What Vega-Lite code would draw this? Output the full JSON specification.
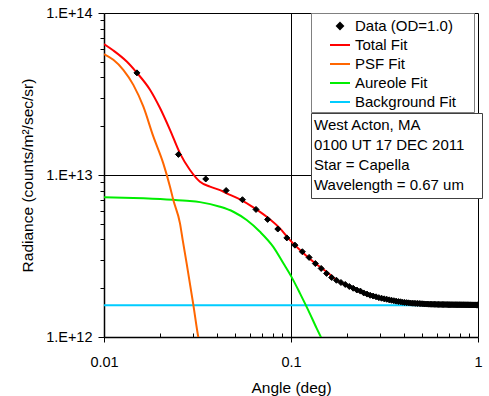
{
  "$schema": "https://vega.github.io/schema/vega-lite/v6.json",
  "width": 374,
  "height": 324,
  "autosize": "none",
  "padding": {"left": 104, "top": 13, "right": 11, "bottom": 59},
  "config": {
    "font": "Liberation Sans",
    "view": {"stroke": null},
    "axis": {
      "labelFont": "Liberation Sans",
      "titleFont": "Liberation Sans",
      "labelColor": "black",
      "titleColor": "black",
      "domainColor": "black",
      "tickColor": "black",
      "gridColor": "black",
      "gridWidth": 1,
      "domainWidth": 1.5,
      "tickWidth": 1,
      "labelFontSize": 14.5,
      "titleFontSize": 15.5,
      "titleFontWeight": "normal"
    }
  },
  "datasets": {
    "info": [
      {"line": "West Acton, MA"},
      {"line": "0100 UT 17 DEC 2011"},
      {"line": "Star = Capella"},
      {"line": "Wavelength = 0.67 um"}
    ],
    "obs": [
      {"s": "Data (OD=1.0)", "a": 0.015, "r": 4.27e13}, {"s": "Data (OD=1.0)", "a": 0.025, "r": 1.34e13}, {"s": "Data (OD=1.0)", "a": 0.035, "r": 9.45e12}, {"s": "Data (OD=1.0)", "a": 0.045, "r": 8.02e12},
      {"s": "Data (OD=1.0)", "a": 0.055, "r": 7.04e12}, {"s": "Data (OD=1.0)", "a": 0.065, "r": 6.13e12}, {"s": "Data (OD=1.0)", "a": 0.075, "r": 5.32e12}, {"s": "Data (OD=1.0)", "a": 0.085, "r": 4.64e12},
      {"s": "Data (OD=1.0)", "a": 0.095, "r": 4.09e12}, {"s": "Data (OD=1.0)", "a": 0.105, "r": 3.69e12}, {"s": "Data (OD=1.0)", "a": 0.115, "r": 3.36e12}, {"s": "Data (OD=1.0)", "a": 0.125, "r": 3.10e12},
      {"s": "Data (OD=1.0)", "a": 0.135, "r": 2.84e12}, {"s": "Data (OD=1.0)", "a": 0.145, "r": 2.65e12}, {"s": "Data (OD=1.0)", "a": 0.155, "r": 2.47e12}, {"s": "Data (OD=1.0)", "a": 0.165, "r": 2.33e12},
      {"s": "Data (OD=1.0)", "a": 0.175, "r": 2.24e12}, {"s": "Data (OD=1.0)", "a": 0.185, "r": 2.17e12}, {"s": "Data (OD=1.0)", "a": 0.195, "r": 2.11e12}, {"s": "Data (OD=1.0)", "a": 0.205, "r": 2.05e12},
      {"s": "Data (OD=1.0)", "a": 0.215, "r": 2.00e12}, {"s": "Data (OD=1.0)", "a": 0.225, "r": 1.95e12}, {"s": "Data (OD=1.0)", "a": 0.235, "r": 1.92e12}, {"s": "Data (OD=1.0)", "a": 0.245, "r": 1.87e12},
      {"s": "Data (OD=1.0)", "a": 0.255, "r": 1.84e12}, {"s": "Data (OD=1.0)", "a": 0.265, "r": 1.81e12}, {"s": "Data (OD=1.0)", "a": 0.275, "r": 1.79e12}, {"s": "Data (OD=1.0)", "a": 0.285, "r": 1.77e12},
      {"s": "Data (OD=1.0)", "a": 0.295, "r": 1.75e12}, {"s": "Data (OD=1.0)", "a": 0.305, "r": 1.735e12}, {"s": "Data (OD=1.0)", "a": 0.315, "r": 1.72e12}, {"s": "Data (OD=1.0)", "a": 0.325, "r": 1.71e12},
      {"s": "Data (OD=1.0)", "a": 0.335, "r": 1.695e12}, {"s": "Data (OD=1.0)", "a": 0.345, "r": 1.685e12}, {"s": "Data (OD=1.0)", "a": 0.355, "r": 1.675e12}, {"s": "Data (OD=1.0)", "a": 0.365, "r": 1.665e12},
      {"s": "Data (OD=1.0)", "a": 0.375, "r": 1.655e12}, {"s": "Data (OD=1.0)", "a": 0.385, "r": 1.65e12}, {"s": "Data (OD=1.0)", "a": 0.395, "r": 1.64e12}, {"s": "Data (OD=1.0)", "a": 0.405, "r": 1.635e12},
      {"s": "Data (OD=1.0)", "a": 0.415, "r": 1.63e12}, {"s": "Data (OD=1.0)", "a": 0.425, "r": 1.625e12}, {"s": "Data (OD=1.0)", "a": 0.435, "r": 1.62e12}, {"s": "Data (OD=1.0)", "a": 0.445, "r": 1.617e12},
      {"s": "Data (OD=1.0)", "a": 0.455, "r": 1.615e12}, {"s": "Data (OD=1.0)", "a": 0.465, "r": 1.612e12}, {"s": "Data (OD=1.0)", "a": 0.475, "r": 1.61e12}, {"s": "Data (OD=1.0)", "a": 0.485, "r": 1.608e12},
      {"s": "Data (OD=1.0)", "a": 0.495, "r": 1.605e12}, {"s": "Data (OD=1.0)", "a": 0.505, "r": 1.603e12}, {"s": "Data (OD=1.0)", "a": 0.515, "r": 1.600e12}, {"s": "Data (OD=1.0)", "a": 0.525, "r": 1.598e12},
      {"s": "Data (OD=1.0)", "a": 0.535, "r": 1.597e12}, {"s": "Data (OD=1.0)", "a": 0.545, "r": 1.595e12}, {"s": "Data (OD=1.0)", "a": 0.555, "r": 1.594e12}, {"s": "Data (OD=1.0)", "a": 0.565, "r": 1.593e12},
      {"s": "Data (OD=1.0)", "a": 0.575, "r": 1.592e12}, {"s": "Data (OD=1.0)", "a": 0.585, "r": 1.591e12}, {"s": "Data (OD=1.0)", "a": 0.595, "r": 1.590e12}, {"s": "Data (OD=1.0)", "a": 0.605, "r": 1.589e12},
      {"s": "Data (OD=1.0)", "a": 0.615, "r": 1.589e12}, {"s": "Data (OD=1.0)", "a": 0.625, "r": 1.588e12}, {"s": "Data (OD=1.0)", "a": 0.635, "r": 1.587e12}, {"s": "Data (OD=1.0)", "a": 0.645, "r": 1.587e12},
      {"s": "Data (OD=1.0)", "a": 0.655, "r": 1.586e12}, {"s": "Data (OD=1.0)", "a": 0.665, "r": 1.586e12}, {"s": "Data (OD=1.0)", "a": 0.675, "r": 1.585e12}, {"s": "Data (OD=1.0)", "a": 0.685, "r": 1.585e12},
      {"s": "Data (OD=1.0)", "a": 0.695, "r": 1.584e12}, {"s": "Data (OD=1.0)", "a": 0.705, "r": 1.584e12}, {"s": "Data (OD=1.0)", "a": 0.715, "r": 1.583e12}, {"s": "Data (OD=1.0)", "a": 0.725, "r": 1.584e12},
      {"s": "Data (OD=1.0)", "a": 0.735, "r": 1.583e12}, {"s": "Data (OD=1.0)", "a": 0.745, "r": 1.582e12}, {"s": "Data (OD=1.0)", "a": 0.755, "r": 1.583e12}, {"s": "Data (OD=1.0)", "a": 0.765, "r": 1.582e12},
      {"s": "Data (OD=1.0)", "a": 0.775, "r": 1.582e12}, {"s": "Data (OD=1.0)", "a": 0.785, "r": 1.581e12}, {"s": "Data (OD=1.0)", "a": 0.795, "r": 1.582e12}, {"s": "Data (OD=1.0)", "a": 0.805, "r": 1.581e12},
      {"s": "Data (OD=1.0)", "a": 0.815, "r": 1.581e12}, {"s": "Data (OD=1.0)", "a": 0.825, "r": 1.580e12}, {"s": "Data (OD=1.0)", "a": 0.835, "r": 1.581e12}, {"s": "Data (OD=1.0)", "a": 0.845, "r": 1.580e12},
      {"s": "Data (OD=1.0)", "a": 0.855, "r": 1.580e12}, {"s": "Data (OD=1.0)", "a": 0.865, "r": 1.579e12}, {"s": "Data (OD=1.0)", "a": 0.875, "r": 1.580e12}, {"s": "Data (OD=1.0)", "a": 0.885, "r": 1.579e12},
      {"s": "Data (OD=1.0)", "a": 0.895, "r": 1.579e12}, {"s": "Data (OD=1.0)", "a": 0.905, "r": 1.578e12}, {"s": "Data (OD=1.0)", "a": 0.915, "r": 1.579e12}, {"s": "Data (OD=1.0)", "a": 0.925, "r": 1.578e12},
      {"s": "Data (OD=1.0)", "a": 0.935, "r": 1.578e12}, {"s": "Data (OD=1.0)", "a": 0.945, "r": 1.578e12}, {"s": "Data (OD=1.0)", "a": 0.955, "r": 1.577e12}, {"s": "Data (OD=1.0)", "a": 0.965, "r": 1.578e12},
      {"s": "Data (OD=1.0)", "a": 0.975, "r": 1.577e12}, {"s": "Data (OD=1.0)", "a": 0.985, "r": 1.577e12}, {"s": "Data (OD=1.0)", "a": 0.995, "r": 1.577e12}
    ],
    "fits": [
      {"s": "Background Fit", "a": 0.01, "r": 1.57e12},
      {"s": "Background Fit", "a": 1.0, "r": 1.57e12},
      {"s": "Aureole Fit", "a": 0.01, "r": 7.28e12},
      {"s": "Aureole Fit", "a": 0.01435, "r": 7.21e12},
      {"s": "Aureole Fit", "a": 0.02164, "r": 7.07e12},
      {"s": "Aureole Fit", "a": 0.02768, "r": 6.93e12},
      {"s": "Aureole Fit", "a": 0.03261, "r": 6.80e12},
      {"s": "Aureole Fit", "a": 0.04172, "r": 6.37e12},
      {"s": "Aureole Fit", "a": 0.04916, "r": 5.93e12},
      {"s": "Aureole Fit", "a": 0.05794, "r": 5.27e12},
      {"s": "Aureole Fit", "a": 0.06825, "r": 4.46e12},
      {"s": "Aureole Fit", "a": 0.08039, "r": 3.60e12},
      {"s": "Aureole Fit", "a": 0.09102, "r": 2.85e12},
      {"s": "Aureole Fit", "a": 0.1006, "r": 2.35e12},
      {"s": "Aureole Fit", "a": 0.1117, "r": 1.86e12},
      {"s": "Aureole Fit", "a": 0.1238, "r": 1.46e12},
      {"s": "Aureole Fit", "a": 0.1372, "r": 1.13e12},
      {"s": "Aureole Fit", "a": 0.1489, "r": 0.93e12},
      {"s": "PSF Fit", "a": 0.01, "r": 5.58e13},
      {"s": "PSF Fit", "a": 0.01122, "r": 5.14e13},
      {"s": "PSF Fit", "a": 0.01268, "r": 4.46e13},
      {"s": "PSF Fit", "a": 0.01435, "r": 3.60e13},
      {"s": "PSF Fit", "a": 0.01622, "r": 2.65e13},
      {"s": "PSF Fit", "a": 0.01835, "r": 1.73e13},
      {"s": "PSF Fit", "a": 0.02075, "r": 1.18e13},
      {"s": "PSF Fit", "a": 0.02254, "r": 8.47e12},
      {"s": "PSF Fit", "a": 0.02348, "r": 7.00e12},
      {"s": "PSF Fit", "a": 0.02549, "r": 5.03e12},
      {"s": "PSF Fit", "a": 0.02636, "r": 3.96e12},
      {"s": "PSF Fit", "a": 0.02768, "r": 2.84e12},
      {"s": "PSF Fit", "a": 0.03002, "r": 1.59e12},
      {"s": "PSF Fit", "a": 0.03192, "r": 1.00e12},
      {"s": "PSF Fit", "a": 0.0325, "r": 0.90e12},
      {"s": "Total Fit", "a": 0.01, "r": 6.43e13},
      {"s": "Total Fit", "a": 0.01122, "r": 5.87e13},
      {"s": "Total Fit", "a": 0.01323, "r": 5.02e13},
      {"s": "Total Fit", "a": 0.01496, "r": 4.29e13},
      {"s": "Total Fit", "a": 0.01762, "r": 3.36e13},
      {"s": "Total Fit", "a": 0.01993, "r": 2.59e13},
      {"s": "Total Fit", "a": 0.02254, "r": 1.90e13},
      {"s": "Total Fit", "a": 0.02549, "r": 1.36e13},
      {"s": "Total Fit", "a": 0.02883, "r": 1.074e13},
      {"s": "Total Fit", "a": 0.03261, "r": 9.09e12},
      {"s": "Total Fit", "a": 0.03688, "r": 8.47e12},
      {"s": "Total Fit", "a": 0.04172, "r": 8.07e12},
      {"s": "Total Fit", "a": 0.0453, "r": 7.71e12},
      {"s": "Total Fit", "a": 0.05336, "r": 7.07e12},
      {"s": "Total Fit", "a": 0.06285, "r": 6.31e12},
      {"s": "Total Fit", "a": 0.07413, "r": 5.52e12},
      {"s": "Total Fit", "a": 0.0873, "r": 4.68e12},
      {"s": "Total Fit", "a": 0.0988, "r": 3.96e12},
      {"s": "Total Fit", "a": 0.1117, "r": 3.44e12},
      {"s": "Total Fit", "a": 0.1316, "r": 2.91e12},
      {"s": "Total Fit", "a": 0.1552, "r": 2.52e12},
      {"s": "Total Fit", "a": 0.1755, "r": 2.24e12},
      {"s": "Total Fit", "a": 0.2068, "r": 2.04e12},
      {"s": "Total Fit", "a": 0.2339, "r": 1.90e12},
      {"s": "Total Fit", "a": 0.2646, "r": 1.81e12},
      {"s": "Total Fit", "a": 0.2992, "r": 1.74e12},
      {"s": "Total Fit", "a": 0.3384, "r": 1.69e12},
      {"s": "Total Fit", "a": 0.3828, "r": 1.645e12},
      {"s": "Total Fit", "a": 0.4329, "r": 1.62e12},
      {"s": "Total Fit", "a": 0.4897, "r": 1.607e12},
      {"s": "Total Fit", "a": 0.6263, "r": 1.588e12},
      {"s": "Total Fit", "a": 0.8012, "r": 1.581e12},
      {"s": "Total Fit", "a": 1.0, "r": 1.577e12}
    ]
  },
  "layer": [
    {
      "data": {"name": "info"},
      "mark": {"type": "point", "opacity": 0},
      "encoding": {
        "strokeDash": {
          "field": "line",
          "type": "nominal",
          "scale": {"domain": ["West Acton, MA", "0100 UT 17 DEC 2011", "Star = Capella", "Wavelength = 0.67 um"]},
          "legend": {
            "orient": "none",
            "legendX": 207,
            "legendY": 100,
            "title": "\u00a0",
            "titleOrient": "right",
            "titlePadding": 13,
            "titleFontSize": 1,
            "fillColor": "white",
            "strokeColor": "#404040",
            "padding": 4,
            "labelFontSize": 15,
            "labelFont": "Liberation Sans",
            "labelColor": "black",
            "symbolSize": 0,
            "symbolStrokeWidth": 0,
            "symbolOpacity": 0,
            "labelOffset": -16,
            "rowPadding": 4.3
          }
        }
      }
    },
    {
      "encoding": {
        "x": {
          "field": "a",
          "type": "quantitative",
          "scale": {"type": "log", "domain": [0.01, 1], "nice": false},
          "axis": {
            "values": [0.01, 0.02, 0.03, 0.04, 0.05, 0.06, 0.07, 0.08, 0.09, 0.1, 0.2, 0.3, 0.4, 0.5, 0.6, 0.7, 0.8, 0.9, 1],
            "labelExpr": "datum.value == 0.01 ? '0.01' : datum.value == 0.1 ? '0.1' : datum.value == 1 ? '1' : ''",
            "title": "Angle (deg)",
            "grid": true,
            "gridOpacity": {"condition": {"test": "datum.value == 0.1 || datum.value == 1", "value": 1}, "value": 0},
            "tickSize": {"condition": {"test": "datum.value == 0.01 || datum.value == 0.1 || datum.value == 1", "value": 5}, "value": -4},
            "labelPadding": 13,
            "titlePadding": 12,
            "labelFlush": false,
            "labelOverlap": false
          }
        },
        "y": {
          "field": "r",
          "type": "quantitative",
          "scale": {"type": "log", "domain": [1e12, 1e14], "nice": false},
          "axis": {
            "values": [1e12, 2e12, 3e12, 4e12, 5e12, 6e12, 7e12, 8e12, 9e12, 1e13, 2e13, 3e13, 4e13, 5e13, 6e13, 7e13, 8e13, 9e13, 1e14],
            "labelExpr": "datum.value == 1e12 ? '1.E+12' : datum.value == 1e13 ? '1.E+13' : datum.value == 1e14 ? '1.E+14' : ''",
            "title": "Radiance (counts/m²/sec/sr)",
            "grid": true,
            "gridOpacity": {"condition": {"test": "datum.value == 1e13 || datum.value == 1e14", "value": 1}, "value": 0},
            "tickSize": {"condition": {"test": "datum.value == 1e12 || datum.value == 1e13 || datum.value == 1e14", "value": 6}, "value": 4},
            "labelPadding": 6,
            "titlePadding": 10,
            "labelFlush": false,
            "labelOverlap": false
          }
        }
      },
      "layer": [
        {
          "data": {"name": "fits"},
          "mark": {"type": "line", "strokeWidth": 2, "clip": true, "interpolate": "monotone"},
          "encoding": {
            "stroke": {
              "field": "s",
              "type": "nominal",
              "scale": {"domain": ["Total Fit", "PSF Fit", "Aureole Fit", "Background Fit"], "range": ["#FF0000", "#FF6600", "#00EE00", "#00CCFF"]},
              "legend": null
            }
          }
        },
        {
          "data": {"name": "obs"},
          "mark": {"type": "point", "filled": false, "fill": "black", "strokeWidth": 1, "size": 400, "opacity": 1, "clip": true},
          "encoding": {
            "color": {
              "field": "s",
              "type": "nominal",
              "scale": {"domain": ["Data (OD=1.0)", "Total Fit", "PSF Fit", "Aureole Fit", "Background Fit"], "range": ["#000000", "#FF0000", "#FF6600", "#00EE00", "#00CCFF"]},
              "legend": {
                "orient": "none",
                "legendX": 207,
                "legendY": 0,
                "title": "\u00a0",
                "titleOrient": "right",
                "titlePadding": 16,
                "titleFontSize": 1,
                "fillColor": "white",
                "strokeColor": "#808080",
                "padding": 2,
                "labelFontSize": 15,
                "labelFont": "Liberation Sans",
                "labelColor": "black",
                "symbolSize": 400,
                "symbolStrokeWidth": 2,
                "symbolOpacity": 1,
                "symbolOffset": 16,
                "labelOffset": 4,
                "rowPadding": -2.2
              }
            },
            "shape": {
              "field": "s",
              "type": "nominal",
              "scale": {"domain": ["Data (OD=1.0)", "Total Fit", "PSF Fit", "Aureole Fit", "Background Fit"], "range": ["M0,-0.3L0.3,0L0,0.3L-0.3,0Z", "stroke", "stroke", "stroke", "stroke"]},
              "legend": {
                "orient": "none",
                "legendX": 207,
                "legendY": 0,
                "title": "\u00a0",
                "titleOrient": "right",
                "titlePadding": 16,
                "titleFontSize": 1,
                "fillColor": "white",
                "strokeColor": "#808080",
                "padding": 2,
                "labelFontSize": 15,
                "labelFont": "Liberation Sans",
                "labelColor": "black",
                "symbolSize": 400,
                "symbolStrokeWidth": 2,
                "symbolOpacity": 1,
                "symbolOffset": 16,
                "labelOffset": 4,
                "rowPadding": -2.2
              }
            }
          }
        }
      ]
    }
  ]
}
